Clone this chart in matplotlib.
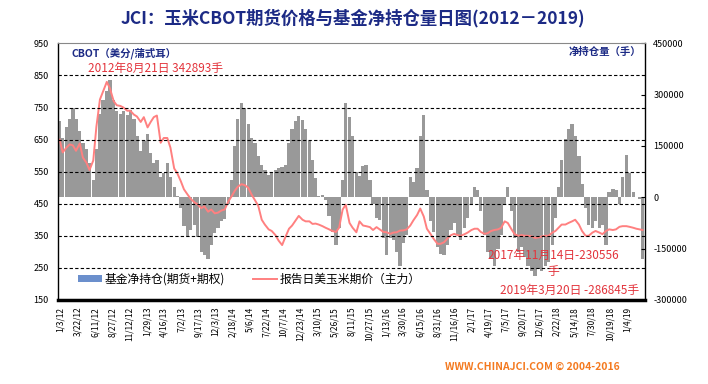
import pandas as pd
import matplotlib
matplotlib.use('Agg')
import matplotlib.pyplot as plt
from matplotlib.patches import Patch
from matplotlib.lines import Line2D

plt.rcParams['font.family'] = ['Noto Sans CJK SC', 'DejaVu Sans']
plt.rcParams['axes.unicode_minus'] = False

# half-monthly readings (1st and 15th), price in cents/bushel, net position in thousand lots
price_2012 = [650, 610, 625, 635, 632, 615, 638, 594, 578, 555, 585, 690,
              775, 800, 830, 810, 770, 757, 755, 750, 740, 740, 728, 722]
price_2013 = [705, 720, 688, 705, 720, 725, 640, 655, 655, 625, 560, 545,
              520, 495, 478, 465, 454, 448, 436, 442, 425, 432, 420, 422]
price_2014 = [429, 432, 458, 473, 490, 503, 511, 508, 500, 480, 460, 444,
              400, 385, 370, 365, 352, 335, 321, 345, 372, 382, 398, 412]
price_2015 = [400, 395, 395, 387, 388, 385, 380, 375, 370, 365, 362, 375,
              432, 447, 390, 375, 361, 395, 382, 380, 377, 368, 377, 370]
price_2016 = [362, 361, 356, 360, 361, 366, 367, 370, 382, 398, 415, 435,
              410, 372, 355, 340, 325, 325, 330, 341, 352, 356, 352, 350]
price_2017 = [355, 360, 368, 372, 372, 362, 356, 358, 365, 368, 370, 375,
              395, 390, 370, 355, 350, 352, 350, 350, 348, 343, 345, 348]
price_2018 = [350, 350, 360, 365, 375, 385, 385, 390, 395, 400, 385, 365,
              350, 350, 360, 365, 360, 355, 365, 370, 368, 370, 378, 380]
price_2019 = [380, 378, 375, 372, 370, 368]

net_2012 = [223, 174, 205, 228, 262, 228, 195, 160, 140, 100, 50, 140,
            245, 285, 310, 343, 285, 252, 245, 252, 240, 255, 230, 180]
net_2013 = [135, 165, 185, 130, 100, 110, 60, 70, 100, 60, 30, 5,
            -30, -85, -115, -95, -80, -115, -160, -170, -180, -140, -105, -90]
net_2014 = [-70, -62, -20, 50, 150, 230, 275, 260, 215, 172, 160, 120,
            95, 80, 65, 70, 80, 85, 88, 95, 160, 200, 223, 237]
net_2015 = [225, 200, 165, 110, 55, 5, 8, -7, -55, -100, -140, -90,
            50, 275, 235, 180, 75, 62, 91, 95, 52, -20, -60, -65]
net_2016 = [-120, -170, -120, -125, -160, -200, -135, -110, 60, 45, 85, 180,
            240, 20, -70, -100, -145, -165, -170, -140, -95, -75, -110, -125]
net_2017 = [-90, -60, -20, 30, 20, -40, -110, -160, -180, -200, -150, -110,
            -20, 30, -40, -120, -160, -145, -175, -200, -215, -230, -210, -215]
net_2018 = [-200, -190, -140, -60, 30, 110, 170, 200, 215, 180, 120, 40,
            -30, -80, -90, -70, -90, -80, -140, 15, 25, 20, -20, 60]
net_2019 = [125, 70, 15, 0, -5, -180]

tick_labels = ['1/3/12', '3/22/12', '6/11/12', '8/27/12', '11/12/12', '1/29/13',
               '4/16/13', '7/2/13', '9/17/13', '12/3/13', '2/18/14', '5/6/14',
               '7/22/14', '10/7/14', '12/23/14', '3/10/15', '5/26/15', '8/11/15',
               '10/27/15', '1/13/16', '3/30/16', '6/15/16', '8/31/16', '11/16/16',
               '2/1/17', '4/19/17', '7/5/17', '9/20/17', '12/6/17', '2/22/18',
               '5/14/18', '7/30/18', '10/19/18', '1/4/19']

price = (price_2012 + price_2013 + price_2014 + price_2015 + price_2016
         + price_2017 + price_2018 + price_2019)
net = (net_2012 + net_2013 + net_2014 + net_2015 + net_2016
       + net_2017 + net_2018 + net_2019)
net = [v * 1000 for v in net]
dates = pd.date_range('2012-01-01', periods=len(price), freq='SMS')
tick_dates = pd.to_datetime(tick_labels, format='%m/%d/%y')

navy = '#1c2a85'
red = '#e3343c'

fig = plt.figure(figsize=(7.08, 3.84), dpi=100)
ax1 = fig.add_axes([0.0826, 0.219, 0.8284, 0.668])
ax2 = ax1.twinx()
ax1.set_zorder(ax2.get_zorder() + 1)
ax1.patch.set_visible(False)

ax2.bar(dates, net, width=15.2, color='#999999', linewidth=0)
ax1.plot(dates, price, color='#ff8080', lw=1.4)

ax1.set_xlim(pd.Timestamp('2011-12-27'), pd.Timestamp('2019-03-26'))
ax1.set_ylim(150, 950)
ax2.set_ylim(-300000, 450000)
ax1.set_yticks(range(150, 951, 100))
ax2.set_yticks(range(-300000, 450001, 150000))
for v in range(250, 851, 100):
    ax1.axhline(v, color='black', lw=0.8, ls=(0, (3, 2)))

ax1.set_xticks(tick_dates)
ax1.set_xticklabels(tick_labels, rotation=90, fontsize=6)
ax1.tick_params(axis='x', length=0, pad=5)
ax1.tick_params(axis='y', length=0, pad=7, labelsize=6.5)
ax2.tick_params(axis='y', direction='in', length=3, pad=6, labelsize=6.5)

for s in ax2.spines.values():
    s.set_visible(False)
ax1.spines['bottom'].set_linewidth(2.5)
ax1.spines['left'].set_linewidth(1)
ax1.spines['right'].set_linewidth(1)
ax1.spines['top'].set_color('#888888')

fig.text(0.4986, 0.953, 'JCI：玉米CBOT期货价格与基金净持仓量日图(2012－2019)',
         ha='center', va='center', fontsize=12.5, fontweight='bold', color=navy)
fig.text(71 / 708, 1 - 53 / 384, 'CBOT（美分/蒲式耳）', ha='left', va='center',
         fontsize=7.5, fontweight='bold', color=navy)
fig.text(641 / 708, 1 - 52 / 384, '净持仓量（手）', ha='right', va='center',
         fontsize=7.5, fontweight='bold', color=navy)
fig.text(88 / 708, 1 - 68 / 384, '2012年8月21日 342893手', ha='left', va='center',
         fontsize=8.5, color=red)
fig.text(487 / 708, 1 - 255 / 384, '2017年11月14日-230556', ha='left', va='center',
         fontsize=8.5, color=red)
fig.text(553 / 708, 1 - 271 / 384, '手', ha='center', va='center',
         fontsize=8.5, color=red)
fig.text(500 / 708, 1 - 290 / 384, '2019年3月20日 -286845手', ha='left', va='center',
         fontsize=8.5, color=red)
fig.text(445 / 708, 1 - 367 / 384, 'WWW.CHINAJCI.COM © 2004-2016', ha='left', va='center',
         fontsize=7.5, fontweight='bold', color='#f47a20')

handles = [Patch(facecolor='#6b8fcc', edgecolor='none'),
           Line2D([], [], color='#ff8080', lw=1.4)]
labels = ['基金净持仓(期货+期权)', '报告日美玉米期价（主力）']
fig.legend(handles, labels, loc='center left', bbox_to_anchor=(78 / 708, 1 - 279 / 384),
           ncol=2, frameon=False, fontsize=8.5, handlelength=2.0, handleheight=0.5,
           handletextpad=0.25, columnspacing=2.4, borderpad=0, borderaxespad=0)

fig.savefig('out.png', dpi=100)
